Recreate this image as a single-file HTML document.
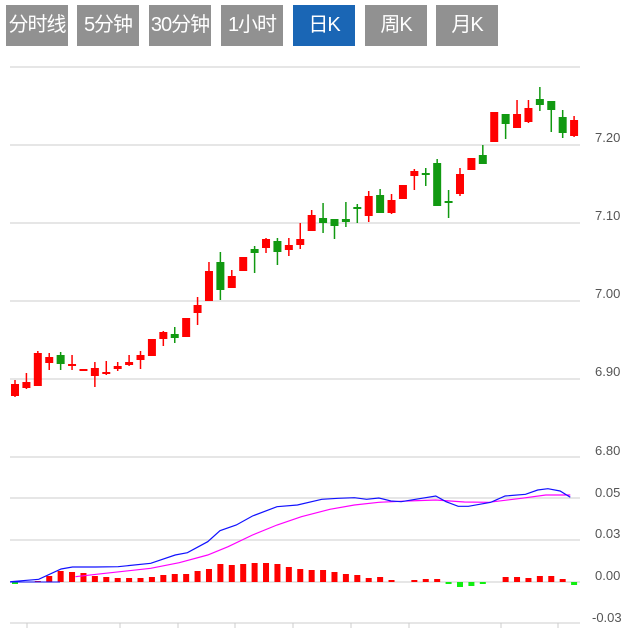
<!DOCTYPE html>
<html><head><meta charset="utf-8"><style>
body{margin:0;width:642px;height:628px;background:#fff;overflow:hidden;font-family:"Liberation Sans","Noto Sans CJK SC",sans-serif}
.b{position:absolute;top:5px;height:41px;width:62px;background:#919191;color:#fff;font-size:20px;letter-spacing:-1px;white-space:nowrap;overflow:visible;line-height:41px;text-align:center;font-family:"Liberation Sans","Noto Sans CJK SC",sans-serif}
.on{background:#1a66b5}
svg{position:absolute;left:0;top:0}
text{font-family:"Liberation Sans",sans-serif;font-size:13px;fill:#555}
</style></head><body>
<div class="b" style="left:6px">分时线</div>
<div class="b" style="left:77px">5分钟</div>
<div class="b" style="left:149px">30分钟</div>
<div class="b" style="left:221px">1小时</div>
<div class="b on" style="left:293px">日K</div>
<div class="b" style="left:365px">周K</div>
<div class="b" style="left:436px">月K</div>
<svg id="s" width="642" height="628">
<g stroke="#ddd" stroke-width="1.5">
<line x1="10" x2="580" y1="67" y2="67"/><line x1="10" x2="580" y1="145" y2="145"/><line x1="10" x2="580" y1="223" y2="223"/><line x1="10" x2="580" y1="301" y2="301"/><line x1="10" x2="580" y1="379" y2="379"/><line x1="10" x2="580" y1="457" y2="457"/>
<line x1="10" x2="580" y1="498" y2="498"/><line x1="10" x2="580" y1="540" y2="540"/><line x1="10" x2="580" y1="582" y2="582"/><line x1="10" x2="580" y1="623" y2="623"/>
</g>
<g stroke="#ccc"><line x1="27" x2="27" y1="623" y2="628"/><line x1="120" x2="120" y1="623" y2="628"/><line x1="178" x2="178" y1="623" y2="628"/><line x1="235" x2="235" y1="623" y2="628"/><line x1="293" x2="293" y1="623" y2="628"/><line x1="351" x2="351" y1="623" y2="628"/><line x1="409" x2="409" y1="623" y2="628"/><line x1="501" x2="501" y1="623" y2="628"/><line x1="558" x2="558" y1="623" y2="628"/></g>
<text x="595" y="142">7.20</text><text x="595" y="220">7.10</text><text x="595" y="298">7.00</text><text x="595" y="376">6.90</text><text x="595" y="455">6.80</text>
<text x="595" y="497">0.05</text><text x="595" y="538">0.03</text><text x="595" y="580">0.00</text><text x="592" y="622">-0.03</text>
<g id="c"></g>
</svg>
<script>
var C=[[384,396,380,397,1],[382,388,373,389,1],[353,386,351,386,1],[357,363,353,370,1],[355,364,352,370,0],[364,366,355,370,1],[369,371,369,371,1],[368,376,362,387,1],[372,374,361,375,1],[366,369,362,371,1],[362,365,355,366,1],[355,360,351,369,1],[339,356,339,356,1],[332,339,331,346,1],[334,338,327,343,0],[318,337,318,337,1],[305,313,297,325,1],[271,301,262,301,1],[262,290,252,300,0],[276,288,270,288,1],[257,271,257,271,1],[249,253,246,273,0],[239,248,238,253,1],[241,252,238,265,0],[245,250,238,256,1],[239,245,223,249,1],[215,231,210,231,1],[218,223,203,233,0],[219,226,219,239,0],[219,222,202,227,0],[207,209,204,223,0],[196,216,191,222,1],[195,213,189,213,0],[200,213,194,214,1],[185,199,185,199,1],[171,176,169,190,1],[173,175,168,186,0],[163,206,159,206,0],[201,203,190,218,0],[174,194,168,196,1],[158,170,158,170,1],[155,164,145,164,0],[112,142,112,142,1],[114,124,114,139,0],[114,128,100,128,1],[108,122,100,123,1],[99,105,87,111,0],[101,110,101,132,0],[117,133,110,138,0],[120,136,116,137,1]];
var M=[-2,0,1,6,11,10,9,6,5,4,4,4,5,7,8,8,11,13,18,17,18,19,19,18,15,13,12,12,10,8,7,4,5,2,0,2,3,3,-2,-5,-4,-2,0,5,5,4,6,6,3,-3];
var h='';
for(var i=0;i<50;i++){var cx=15+i*11.41,c=C[i],col=c[4]?'#f00':'#119911';
h+='<line x1="'+cx+'" x2="'+cx+'" y1="'+c[2]+'" y2="'+c[3]+'" stroke="'+col+'" stroke-width="1.5"/>';
h+='<rect x="'+(cx-4)+'" y="'+c[0]+'" width="8" height="'+Math.max(2,c[1]-c[0])+'" fill="'+col+'"/>';
var m=M[i];if(m){var bw=6;h+='<rect x="'+(cx-bw/2)+'" y="'+(m>0?582-m:582)+'" width="'+bw+'" height="'+Math.abs(m)+'" fill="'+(m>0?'#f00':'#1e1')+'"/>';}}
function pl(a,col){var p=[];for(var j=0;j<a.length;j+=2)p.push((a[j]/2.455).toFixed(1)+','+(440+a[j+1]/3).toFixed(1));return '<polyline fill="none" stroke="'+col+'" stroke-width="1.2" points="'+p.join(' ')+'"/>';}
h+=pl([185,410,250,401,370,385,440,368,510,345,560,320,620,285,680,255,740,230,810,208,870,195,930,187,1000,183,1070,180,1140,186,1200,187,1280,175,1340,165,1400,165],'#f0f');
h+=pl([25,425,95,418,150,387,178,381,235,381,290,380,370,370,430,345,460,338,510,305,540,272,580,255,620,228,680,200,730,195,790,178,830,175,870,173,900,178,930,174,960,183,985,185,1020,178,1070,168,1095,185,1125,199,1150,199,1205,187,1240,168,1290,163,1320,150,1345,146,1375,153,1400,172],'#11f');
h+='<line x1="10" x2="60" y1="582" y2="582" stroke="#11f" stroke-width="1"/>';
document.getElementById('c').innerHTML=h;
</script>
</body></html>
